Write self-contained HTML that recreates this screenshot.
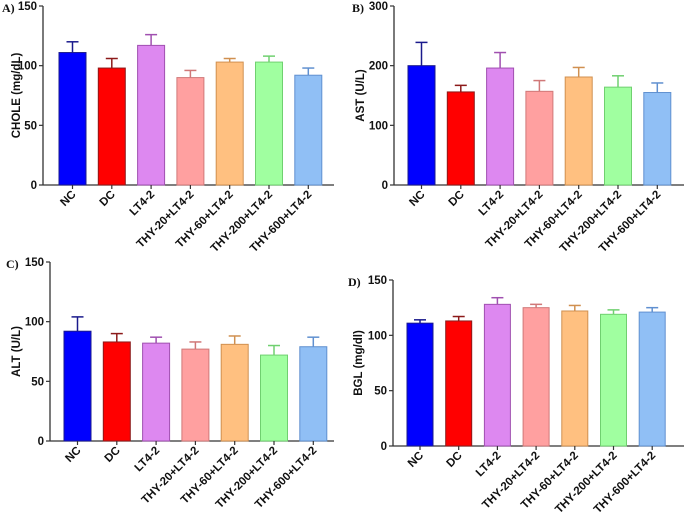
<!DOCTYPE html>
<html><head><meta charset="utf-8"><style>
body{margin:0;background:#fff;}
svg{display:block;font-family:"Liberation Sans",Arial,sans-serif;}
</style></head><body>
<svg id="fig" width="685" height="512"></svg>
<script>
const categories = ["NC","DC","LT4-2","THY-20+LT4-2","THY-60+LT4-2","THY-200+LT4-2","THY-600+LT4-2"];
const choleMeans = [111,98,117,90,103,103,92];
const choleErr   = [9,8,9,6,3,5,6];
const astMeans   = [200,156,196,157,181,164,155];
const astErr     = [39,11,26,18,16,19,16];
const altMeans   = [92,83,82,77,81,72,79];
const altErr     = [12,7,5,6,7,8,8];
const bglMeans   = [111,113,128,125,122,119,121];
const bglErr     = [3,4,6,3,5,4,4];
const choleTicks = [0,50,100,150];
const astTicks   = [0,100,200,300];
const altTicks   = [0,50,100,150];
const bglTicks   = [0,50,100,150];

const fills = ["#0000ff","#ff0000","#dd88f0","#ffa0a0","#ffc080","#a0ffa0","#90bff5"];
const strokes = ["#1a1a8c","#8c1a1a","#a050b0","#d07878","#d09050","#70d070","#6090d0"];
const NS="http://www.w3.org/2000/svg";
const svg=document.getElementById('fig');
function mk(tag,attrs,parent){const e=document.createElementNS(NS,tag);for(const k in attrs)e.setAttribute(k,attrs[k]);(parent||svg).appendChild(e);return e;}

function panel(p){
  const g=mk('g',{});
  
  
  const ymax=p.ticks[p.ticks.length-1];
  const y=v=>p.y0-(v/ymax)*(p.y0-p.ytop);
  const x=i=>p.bx0+i*p.step;
  const ya=mk('line',{x1:p.ax,y1:p.ytop,x2:p.ax,y2:p.y0,stroke:'#333','stroke-width':1.3},g);
  
  
  const xa=mk('line',{x1:p.ax,y1:p.y0,x2:p.axEnd,y2:p.y0,stroke:'#333','stroke-width':1.3},g);
  
  
  p.ticks.forEach(t=>{
    mk('line',{x1:p.ax-4,y1:y(t),x2:p.ax,y2:y(t),stroke:'#333','stroke-width':1.2},g);
    const tl=mk('text',{x:p.ax-6,y:y(t)+4,'text-anchor':'end','font-size':11.5,'font-weight':'bold',fill:'#111'},g);
    tl.textContent=t;
    
    
  });
  const cy=(p.ytop+p.y0)/2;
  const tt=mk('text',{x:p.titleX,y:cy,'text-anchor':'middle','font-size':11.5,'font-weight':'bold',fill:'#111',transform:`rotate(-90 ${p.titleX} ${cy})`},g);
  tt.textContent=p.title;
  
  
  const lt=mk('text',{x:p.letterX,y:p.ytop+6,'font-size':12,'font-weight':'bold','font-family':'"Liberation Serif",serif',fill:'#111'},g);
  lt.textContent=p.letter;
  
  
  p.means.forEach((m,i)=>{
    const bx=x(i), cx=bx+p.bw/2, top=y(m), et=y(m+p.err[i]);
    const eb=mk('line',{x1:cx,y1:top,x2:cx,y2:et,stroke:strokes[i],'stroke-width':1.5},g);
    
    
    mk('line',{x1:cx-6,y1:et,x2:cx+6,y2:et,stroke:strokes[i],'stroke-width':1.5},g);
    const r=mk('rect',{x:bx,y:top,width:p.bw,height:p.y0-top,fill:fills[i],stroke:strokes[i],'stroke-width':1},g);
    
    
    mk('line',{x1:cx,y1:p.y0,x2:cx,y2:p.y0+4,stroke:'#333','stroke-width':1.2},g);
    const tx=cx+4, ty=p.y0+10;
    const cl=mk('text',{x:tx,y:ty,'text-anchor':'end','font-size':11.5,'font-weight':'bold',fill:'#111',transform:`rotate(-45 ${tx} ${ty})`},g);
    cl.textContent=categories[i];
    
    
  });
}
panel({name:'panel-a-chole',letter:'A)',letterX:2,title:'CHOLE (mg/dL)',titleX:20,ax:43,axEnd:334,ytop:6,y0:185,bx0:59,step:39.3,bw:27,ticks:choleTicks,means:choleMeans,err:choleErr});
panel({name:'panel-b-ast',letter:'B)',letterX:352,title:'AST (U/L)',titleX:364,ax:394,axEnd:684,ytop:6,y0:185,bx0:408,step:39.3,bw:27,ticks:astTicks,means:astMeans,err:astErr});
panel({name:'panel-c-alt',letter:'C)',letterX:6,title:'ALT (U/L)',titleX:20,ax:50,axEnd:334,ytop:262,y0:441,bx0:64,step:39.3,bw:27,ticks:altTicks,means:altMeans,err:altErr});
panel({name:'panel-d-bgl',letter:'D)',letterX:348,title:'BGL (mg/dl)',titleX:362,ax:393,axEnd:684,ytop:280,y0:446,bx0:407,step:38.7,bw:26,ticks:bglTicks,means:bglMeans,err:bglErr});
</script>
</body></html>
